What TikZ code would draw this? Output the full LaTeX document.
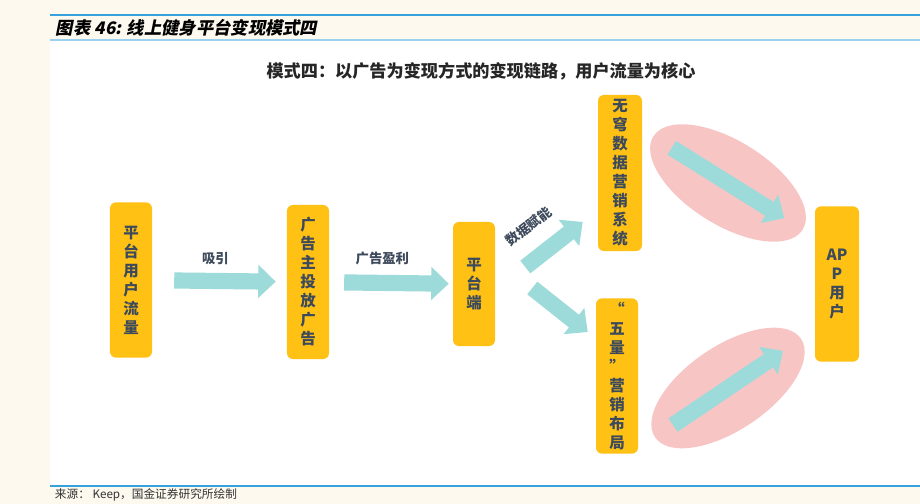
\documentclass[tikz,border=0pt]{standalone}
\usepackage{fontspec}
\setmainfont{Noto Sans CJK SC}
\newfontfamily\hdfont[FakeSlant=0.2]{Noto Sans CJK SC}
\usetikzlibrary{shapes.geometric,arrows.meta}

\definecolor{cream}{HTML}{FDF9EE}
\definecolor{hdblue}{HTML}{35A2DE}
\definecolor{boxorange}{HTML}{FFC113}
\definecolor{arrowteal}{HTML}{9CDBDA}
\definecolor{blobpink}{HTML}{F8C5C5}
\definecolor{inkgray}{HTML}{3D4A5C}

\tikzset{
  box/.style={rectangle, rounded corners=0.15cm, fill=boxorange, text=inkgray,
    minimum width=1.05cm, inner sep=0pt, align=center,
    font=\bfseries\fontsize{11}{13.5}\selectfont},
  blob/.style={ellipse, fill=blobpink, minimum width=4.4cm, minimum height=2.1cm, inner sep=0pt},
  blockarrow/.style={draw=arrowteal, line width=11.5pt, -{Triangle[width=23pt, length=12.5pt]}},
  arrowlabel/.style={text=inkgray, inner sep=1pt, font=\bfseries\fontsize{9.5}{11}\selectfont}
}

\begin{document}
\begin{tikzpicture}[x=0.025cm, y=-0.025cm]
	\useasboundingbox (0,0) rectangle (920,504);
	\fill[cream] (0,0) rectangle (920,504);
	\fill[white] (50,40) rectangle (920,486);
	\draw[hdblue, line width=1.5pt] (50,15) -- (920,15);
	\draw[hdblue!50, line width=0.8pt] (50,40) -- (920,40);
	\draw[hdblue, line width=1.2pt] (50,486) -- (920,486);

	\node[anchor=west, font=\hdfont\bfseries\fontsize{12.3}{14}\selectfont] (hdr) at (51,28) {图表 46: 线上健身平台变现模式四};
	\node[anchor=west, font=\fontsize{8.3}{10}\selectfont, text=black!80] (src) at (50,495) {来源：\ Keep，国金证券研究所绘制};
	\node[font=\bfseries\fontsize{12.2}{14}\selectfont, text=black!85] (title) at (481,71) {模式四：以广告为变现方式的变现链路，用户流量为核心};

	% boxes
	\node[box, minimum height=3.88cm] (flow) at (131,280) {平\\台\\用\\户\\流\\量};
	\node[box, minimum height=3.85cm] (adv) at (308,282) {广\\告\\主\\投\\放\\广\\告};
	\node[box, minimum height=3.1cm] (platform) at (474,284) {平\\台\\端};
	\node[box, minimum height=3.9cm, minimum width=1.1cm] (wq) at (620,173) {无\\穹\\数\\据\\营\\销\\系\\统};
	\node[box, minimum height=3.88cm] (wl) at (617,376) {“\\五\\量\\”\\营\\销\\布\\局};
	\node[box, minimum height=3.88cm, minimum width=1.1cm] (app) at (837,284) {AP\\P\\用\\户};

	% pink blobs
	\node[blob, rotate=-32] (hot1) at (728,183) {};
	\node[blob, rotate=34] (hot2) at (728,388) {};

	% arrows
	\draw[blockarrow, shorten <=15.6pt, shorten >=7.8pt] (flow) -- node[pos=0.47, above=5pt, arrowlabel] {吸引} (adv);
	\draw[blockarrow, shorten <=10.6pt, shorten >=2.8pt] (adv) -- node[pos=0.43, above=6pt, arrowlabel] {广告盈利} (platform);
	\draw[blockarrow] ([shift={(30,-17)}]platform.east) -- node[pos=0.38, sloped, above=10pt, arrowlabel] {数据赋能} ([shift={(-15,49)}]wq.west);
	\draw[blockarrow] ([shift={(37,4)}]platform.east) -- ([shift={(-8,-44)}]wl.west);
	\foreach \b in {hot1,hot2}
		\draw[blockarrow, shorten <=15.6pt, shorten >=15.6pt] (\b.west) -- (\b.east);
\end{tikzpicture}
\end{document}
